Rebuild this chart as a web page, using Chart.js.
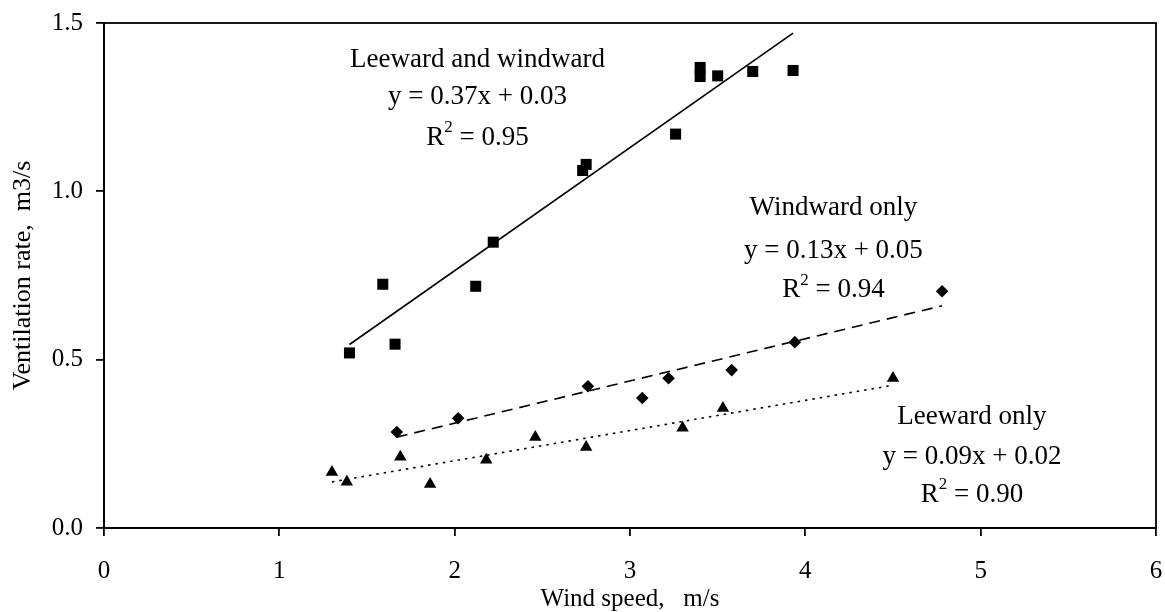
<!DOCTYPE html>
<html>
<head>
<meta charset="utf-8">
<script src="https://cdn.jsdelivr.net/npm/chart.js@4/dist/chart.umd.min.js"></script>
<style>
  html, body { margin: 0; padding: 0; background: #fff; }
  canvas { display: block; }
</style>
</head>
<body>
<canvas id="chart" width="1165" height="612"></canvas>
<script>
// Leeward and windward openings (squares)
const windBoth = [1.40, 1.59, 1.66, 2.12, 2.22, 2.73, 2.75, 3.26, 3.40, 3.40, 3.50, 3.70, 3.93];
const rateBoth = [0.52, 0.724, 0.546, 0.718, 0.849, 1.062, 1.08, 1.17, 1.368, 1.341, 1.343, 1.356, 1.359];

// Windward only (diamonds)
const windWindward = [1.67, 2.02, 2.76, 3.07, 3.22, 3.58, 3.94, 4.78];
const rateWindward = [0.285, 0.326, 0.421, 0.386, 0.445, 0.469, 0.552, 0.703];

// Leeward only (triangles)
const windLeeward = [1.30, 1.385, 1.69, 1.86, 2.18, 2.46, 2.75, 3.30, 3.53, 4.50];
const rateLeeward = [0.166, 0.137, 0.211, 0.13, 0.202, 0.27, 0.24, 0.297, 0.356, 0.445];

// linear trend lines, end points
const trendBothX = [1.40, 3.93];
const trendBothY = [0.545, 1.47];
const trendWindwardX = [1.67, 4.78];
const trendWindwardY = [0.27, 0.66];
const trendLeewardX = [1.30, 4.50];
const trendLeewardY = [0.137, 0.424];

// tick labels
const xTicks = [0, 1, 2, 3, 4, 5, 6];
const yTicks = [0.0, 0.5, 1.0, 1.5];

// fit labels
const fitTitles = ["Leeward and windward", "Windward only", "Leeward only"];
const fitEquations = ["y = 0.37x + 0.03", "y = 0.13x + 0.05", "y = 0.09x + 0.02"];
const fitR2 = ["0.95", "0.94", "0.90"];

const toPoints = (xs, ys) => xs.map((x, i) => ({ x: x, y: ys[i] }));

const SERIF = "'Liberation Serif', 'Times New Roman', serif";

// where each text block sits (data units: centre x, y of each line)
const labelSpots = [
  { x: 2.13, lines: [1.389, 1.279, 1.160] },
  { x: 4.16, lines: [0.950, 0.822, 0.706] },
  { x: 4.95, lines: [0.329, 0.211, 0.098] }
];

const framePlugin = {
  id: "frame",
  afterDatasetsDraw(chart) {
    const { ctx, chartArea } = chart;
    ctx.save();
    ctx.strokeStyle = "#000";
    ctx.lineWidth = 1.8;
    ctx.strokeRect(chartArea.left, chartArea.top, chartArea.right - chartArea.left, chartArea.bottom - chartArea.top);
    ctx.restore();
  }
};

const fitLabelPlugin = {
  id: "fitLabels",
  afterDatasetsDraw(chart) {
    const { ctx } = chart;
    const xs = chart.scales.x, ys = chart.scales.y;
    ctx.save();
    ctx.fillStyle = "#000";
    ctx.textBaseline = "middle";
    labelSpots.forEach((spot, i) => {
      const cx = xs.getPixelForValue(spot.x);
      const big = "27px " + SERIF;
      const small = "17px " + SERIF;
      ctx.font = big;
      ctx.textAlign = "center";
      ctx.fillText(fitTitles[i], cx, ys.getPixelForValue(spot.lines[0]));
      ctx.fillText(fitEquations[i], cx, ys.getPixelForValue(spot.lines[1]));
      // R² line with a raised 2
      const y3 = ys.getPixelForValue(spot.lines[2]);
      const rest = " = " + fitR2[i];
      ctx.font = big;
      const wR = ctx.measureText("R").width;
      const wRest = ctx.measureText(rest).width;
      ctx.font = small;
      const w2 = ctx.measureText("2").width;
      let left = cx - (wR + w2 + wRest) / 2;
      ctx.textAlign = "left";
      ctx.font = big;
      ctx.fillText("R", left, y3);
      ctx.font = small;
      ctx.fillText("2", left + wR, y3 - 10);
      ctx.font = big;
      ctx.fillText(rest, left + wR + w2, y3);
    });
    ctx.restore();
  }
};

const ctx = document.getElementById("chart").getContext("2d");

new Chart(ctx, {
  type: "scatter",
  data: {
    datasets: [
      {
        label: "Leeward and windward",
        data: toPoints(windBoth, rateBoth),
        pointStyle: "rect",
        pointRadius: 7.8,
        backgroundColor: "#000",
        borderColor: "#000",
        borderWidth: 0
      },
      {
        label: "Windward only",
        data: toPoints(windWindward, rateWindward),
        pointStyle: "rectRot",
        pointRadius: 6.3,
        backgroundColor: "#000",
        borderColor: "#000",
        borderWidth: 0
      },
      {
        label: "Leeward only",
        data: toPoints(windLeeward, rateLeeward),
        pointStyle: "triangle",
        pointRadius: 7.2,
        backgroundColor: "#000",
        borderColor: "#000",
        borderWidth: 0
      },
      {
        label: "Trend both",
        data: toPoints(trendBothX, trendBothY),
        showLine: true,
        pointRadius: 0,
        borderColor: "#000",
        borderWidth: 1.6
      },
      {
        label: "Trend windward",
        data: toPoints(trendWindwardX, trendWindwardY),
        showLine: true,
        pointRadius: 0,
        borderColor: "#000",
        borderWidth: 1.6,
        borderDash: [11, 7]
      },
      {
        label: "Trend leeward",
        data: toPoints(trendLeewardX, trendLeewardY),
        showLine: true,
        pointRadius: 0,
        borderColor: "#000",
        borderWidth: 1.6,
        borderDash: [2.5, 5]
      }
    ]
  },
  options: {
    responsive: false,
    animation: false,
    layout: { padding: { top: 23, right: 9, left: 0, bottom: 0 } },
    plugins: {
      legend: { display: false },
      tooltip: { enabled: false }
    },
    scales: {
      x: {
        type: "linear",
        min: 0,
        max: 6,
        afterBuildTicks: (scale) => { scale.ticks = xTicks.map(v => ({ value: v })); },
        afterFit: (scale) => {
          scale.height = 84;
          scale.paddingLeft = 0;
          scale.paddingRight = 0;
        },
        ticks: {
          color: "#000",
          font: { family: SERIF, size: 25 },
          padding: 20,
          callback: (v) => String(v)
        },
        grid: { drawOnChartArea: false, color: "#000", tickLength: 8, lineWidth: 1.8 },
        border: { color: "#000", width: 1.8 },
        title: {
          display: true,
          text: "Wind speed,   m/s",
          color: "#000",
          font: { family: SERIF, size: 25, lineHeight: 1.0 },
          padding: { top: 0, bottom: 0 }
        }
      },
      y: {
        type: "linear",
        min: 0,
        max: 1.5,
        afterBuildTicks: (scale) => { scale.ticks = yTicks.map(v => ({ value: v })); },
        afterFit: (scale) => {
          scale.width = 104;
          scale.paddingTop = 0;
          scale.paddingBottom = 0;
        },
        ticks: {
          color: "#000",
          font: { family: SERIF, size: 25 },
          padding: 13,
          callback: (v) => Number(v).toFixed(1)
        },
        grid: { drawOnChartArea: false, color: "#000", tickLength: 8, lineWidth: 1.8 },
        border: { color: "#000", width: 1.8 },
        title: {
          display: true,
          text: "Ventilation rate,  m3/s",
          color: "#000",
          font: { family: SERIF, size: 26 },
          padding: { top: 8, bottom: 0 }
        }
      }
    }
  },
  plugins: [framePlugin, fitLabelPlugin]
});
</script>
</body>
</html>
